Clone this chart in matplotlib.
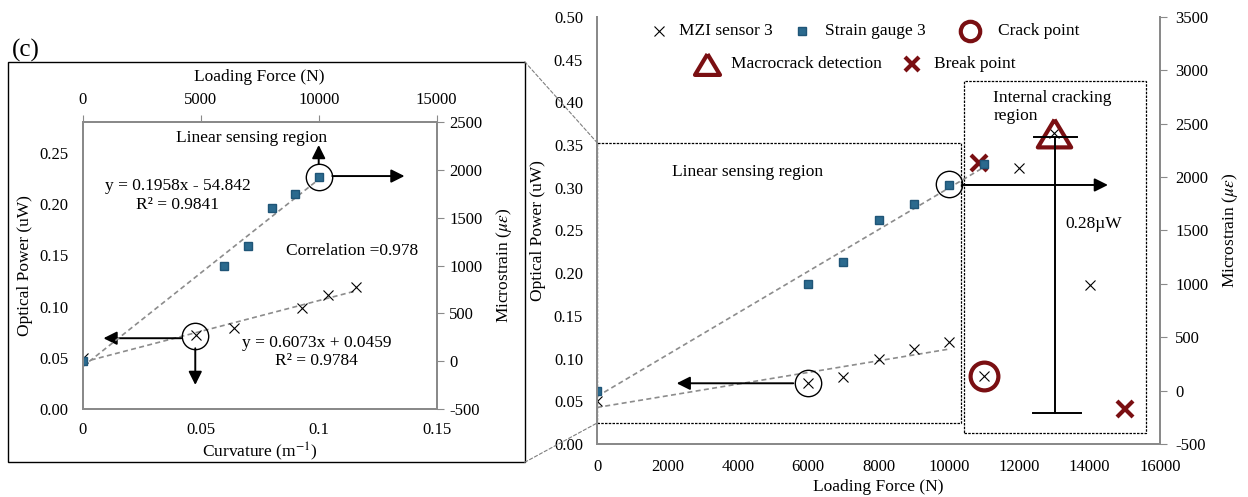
import numpy as np
import matplotlib.pyplot as plt
from matplotlib.patches import Rectangle, ConnectionPatch

plt.rcParams['font.family'] = 'Liberation Serif'
plt.rcParams['mathtext.fontset'] = 'stix'
plt.rcParams['axes.unicode_minus'] = False

# MZI sensor 3 (optical power, uW) against loading force (N)
force = [0, 6000, 7000, 8000, 9000, 10000, 11000, 12000, 13000, 14000]
mzi_power = [0.050, 0.072, 0.079, 0.099, 0.111, 0.119, 0.080, 0.323, 0.364, 0.186]
# strain gauge 3 (microstrain) against loading force (N)
gauge_force = [0, 6000, 7000, 8000, 9000, 10000, 11000]
gauge_strain = [0, 1000, 1207, 1603, 1749, 1925, 2120]
# inset: MZI power against curvature (1/m), linear part only
curvature = [0, 0.048, 0.064, 0.093, 0.104, 0.116]
inset_power = [0.050, 0.072, 0.079, 0.099, 0.111, 0.119]
n_lin = 6

# event markers
crack_force, crack_power = [11000], [0.080]
macro_force, macro_power = [13000], [0.364]
break_force, break_power = [10860, 15000], [0.329, 0.041]

dark_red = '#7A0F12'
sq_color = '#2B6A8E'
spine_c = '#8A8A8A'
trend_c = '#8C8C8C'
tfs = 12     # tick labels
lfs = 12.5   # labels and notes
tri = [(0, 1), (-1.2, -1), (1.2, -1), (0, 1)]

mk_mzi = dict(marker='x', ms=6.5, mew=0.8, color='black')
mk_sg = dict(marker='s', ms=6, color=sq_color, mec='#1F5577')
mk_crack = dict(marker='o', mfc='none', mec=dark_red, mew=3)
mk_macro = dict(marker=tri, mfc='none', mec=dark_red, mew=3)
mk_break = dict(marker='x', color=dark_red, mew=3)


def style_spines(ax):
	for s in ax.spines.values():
		s.set_color(spine_c)
		s.set_linewidth(1.4)


def arrow(ax, start, end):
	ax.annotate('', xy=end, xytext=start,
		arrowprops=dict(arrowstyle='-|>', color='black', lw=1.4, mutation_scale=20, shrinkA=0, shrinkB=0))


fig = plt.figure(figsize=(12.48, 4.97), dpi=100)

# ---------------- main chart ----------------
axm = fig.add_axes([597 / 1248, 53 / 497, 563 / 1248, 427 / 497])
axr = axm.twinx()
axm.set_xlim(0, 16000)
axm.set_ylim(0, 0.5)
axr.set_ylim(-500, 3500)
axm.set_xticks(np.arange(0, 16001, 2000))
axm.set_yticks(np.arange(0, 0.501, 0.05))
axm.set_yticklabels(['%.2f' % v for v in np.arange(0, 0.501, 0.05)])
axr.set_yticks(np.arange(-500, 3501, 500))
for ax in (axm, axr):
	style_spines(ax)
	ax.spines['top'].set_visible(False)
	ax.patch.set_visible(False)
axm.tick_params(axis='y', length=0, labelsize=tfs, pad=10)
axm.tick_params(axis='x', length=0, labelsize=tfs, pad=11)
axr.tick_params(axis='y', length=5, direction='out', color=spine_c, labelsize=tfs, pad=6)
axm.set_xlabel('Loading Force (N)', fontsize=lfs, labelpad=3)
axm.set_ylabel('Optical Power (uW)', fontsize=lfs, labelpad=6)
axr.set_ylabel(r'Microstrain ($\mu\varepsilon$)', fontsize=lfs, labelpad=8)

# region boxes
axm.add_patch(Rectangle((0, 0.0245), 10350, 0.3285, fill=False, ec='black', lw=0.9, ls=(0, (2, 1))))
axm.add_patch(Rectangle((10440, 0.0129), 5170, 0.4127, fill=False, ec='black', lw=0.9, ls=(0, (2, 1))))

# trend lines
mzi_fit = np.polyfit(force[:n_lin], mzi_power[:n_lin], 1)
gauge_fit = np.polyfit(gauge_force[:n_lin], gauge_strain[:n_lin], 1)
xf = np.array([0, 10000])
axm.plot(xf, np.polyval(mzi_fit, xf), ls=(0, (3, 2)), color=trend_c, lw=1.2)
xg = np.array([0, 11000])
axr.plot(xg, np.polyval(gauge_fit, xg), ls=(0, (3, 2)), color=trend_c, lw=1.2)

axr.plot(gauge_force, gauge_strain, ls='none', **mk_sg)
axm.plot(force, mzi_power, ls='none', **mk_mzi)
axm.plot(crack_force, crack_power, ls='none', ms=20, **mk_crack)
axm.plot(macro_force, macro_power, ls='none', ms=24, **mk_macro)
axm.plot(break_force, break_power, ls='none', ms=11, **mk_break)

# highlighted points
axm.plot([10000, 6000], [0.304, 0.072], ls='none', marker='o', ms=19, mfc='none', mec='black', mew=1)
arrow(axm, (10364, 0.3033), (14521, 0.3033))
arrow(axm, (5578, 0.0711), (2264, 0.0711))
axm.plot([13015, 13015], [0.036, 0.360], color='black', lw=1.4)
axm.plot([12418, 13632], [0.360, 0.360], color='black', lw=1.4)
axm.plot([12390, 13745], [0.036, 0.036], color='black', lw=1.4)

axm.text(4291, 0.318, 'Linear sensing region', ha='center', va='center', fontsize=lfs)
axm.text(11260, 0.395, 'Internal cracking\nregion', ha='left', va='center', fontsize=lfs, linespacing=1.15)
axm.text(13299, 0.258, '0.28µW', ha='left', va='center', fontsize=lfs)

# legend, laid out by hand in two centred rows (pixel positions of the reference)
legend_rows = [
	(31, [(mk_mzi, 6.5, 659, 679, 'MZI sensor 3'),
		(mk_sg, 6, 802, 825, 'Strain gauge 3'),
		(mk_crack, 14, 970, 998, 'Crack point')]),
	(64, [(mk_macro, 18, 707, 731, 'Macrocrack detection'),
		(mk_break, 10, 912, 934, 'Break point')]),
]
for py, items in legend_rows:
	fy = (444 - py) / 427
	for style, size, xm, xt, label in items:
		kw = dict(style)
		kw['ms'] = size
		axm.plot([(xm - 597) / 563], [fy], ls='none', transform=axm.transAxes, clip_on=False, **kw)
		axm.text((xt - 597) / 563, fy, label, transform=axm.transAxes, ha='left', va='center', fontsize=lfs)

# ---------------- inset ----------------
rect = [82.7 / 1248, (497 - 409.3) / 497, 354 / 1248, 287.6 / 497]
ax1 = fig.add_axes(rect)
ax2 = fig.add_axes(rect, facecolor='none')
ax1.set_xlim(0, 0.15)
ax1.set_ylim(0, 0.28)
ax2.set_xlim(0, 15000)
ax2.set_ylim(-500, 2500)
ax1.set_xticks([0, 0.05, 0.1, 0.15])
ax1.set_xticklabels(['0', '0.05', '0.1', '0.15'])
ax1.set_yticks(np.arange(0, 0.251, 0.05))
ax1.set_yticklabels(['%.2f' % v for v in np.arange(0, 0.251, 0.05)])
ax2.xaxis.tick_top()
ax2.xaxis.set_label_position('top')
ax2.yaxis.tick_right()
ax2.yaxis.set_label_position('right')
ax2.set_xticks(np.arange(0, 15001, 5000))
ax2.set_yticks(np.arange(-500, 2501, 500))
for ax in (ax1, ax2):
	style_spines(ax)
ax1.tick_params(axis='y', length=0, labelsize=tfs, pad=10)
ax1.tick_params(axis='x', length=0, labelsize=tfs, pad=9)
ax2.tick_params(axis='x', length=5, direction='out', color=spine_c, labelsize=tfs, pad=5)
ax2.tick_params(axis='y', length=5, direction='out', color=spine_c, labelsize=tfs, pad=4)
ax1.set_xlabel('Curvature (m$^{-1}$)', fontsize=lfs, labelpad=2)
ax1.set_ylabel('Optical Power (uW)', fontsize=lfs, labelpad=5)
ax2.set_xlabel('Loading Force (N)', fontsize=lfs, labelpad=8)
ax2.set_ylabel(r'Microstrain ($\mu\varepsilon$)', fontsize=lfs, labelpad=8)

curv_fit = np.polyfit(curvature, inset_power, 1)
xc = np.array([0, curvature[-1]])
ax1.plot(xc, np.polyval(curv_fit, xc), ls=(0, (3, 2)), color=trend_c, lw=1.2)
ax2.plot(xf, np.polyval(gauge_fit, xf), ls=(0, (3, 2)), color=trend_c, lw=1.2)
ax1.plot(curvature, inset_power, ls='none', **mk_mzi)
ax2.plot(gauge_force[:n_lin], gauge_strain[:n_lin], ls='none', **mk_sg)

ax2.plot([10000], [1925], ls='none', marker='o', ms=19, mfc='none', mec='black', mew=1)
ax1.plot([0.0474], [0.0714], ls='none', marker='o', ms=19, mfc='none', mec='black', mew=1)
arrow(ax2, (10000, 2060), (10000, 2257))
arrow(ax2, (10576, 1933), (13636, 1933))
arrow(ax1, (0.0418, 0.0692), (0.0088, 0.0692))
arrow(ax1, (0.0477, 0.0594), (0.0477, 0.0237))

ax1.text(0.478, 0.942, 'Linear sensing region', transform=ax1.transAxes, ha='center', va='center', fontsize=lfs)
ax1.text(0.268, 0.744, 'y = 0.1958x - 54.842\nR² = 0.9841', transform=ax1.transAxes,
	ha='center', va='center', fontsize=lfs, linespacing=1.2)
ax1.text(0.761, 0.552, 'Correlation =0.978', transform=ax1.transAxes, ha='center', va='center', fontsize=lfs)
ax1.text(0.660, 0.200, 'y = 0.6073x + 0.0459\nR² = 0.9784', transform=ax1.transAxes,
	ha='center', va='center', fontsize=lfs, linespacing=1.2)

# inset frame, label and zoom connectors
fx0, fy0, fx1, fy1 = 7.6 / 1248, (497 - 462.3) / 497, 524.7 / 1248, (497 - 61.7) / 497
fig.add_artist(Rectangle((fx0, fy0), fx1 - fx0, fy1 - fy0, transform=fig.transFigure,
	fill=False, ec='black', lw=1))
fig.text(12 / 1248, 1 - 50 / 497, '(c)', ha='left', va='center', fontsize=18)
for fy, yb in ((fy1, 0.353), (fy0, 0.0245)):
	con = ConnectionPatch(xyA=(fx1, fy), coordsA='figure fraction', xyB=(0, yb), coordsB=axm.transData,
		color='#7F7F7F', lw=0.8, ls=(0, (3, 2)))
	fig.add_artist(con)

fig.savefig('out.png', dpi=100)
